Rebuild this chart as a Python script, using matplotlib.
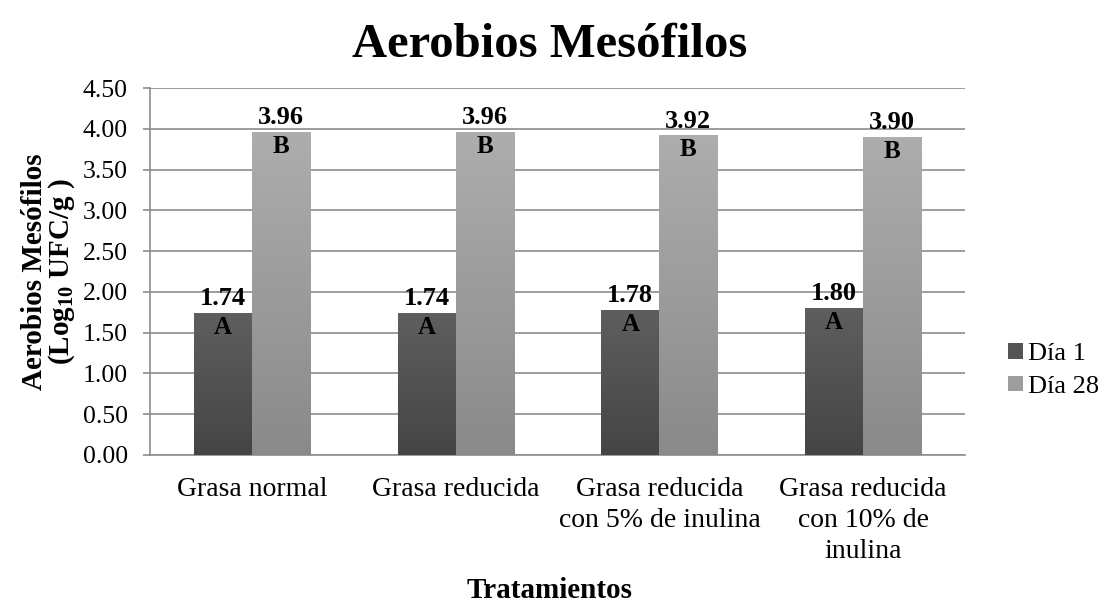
import numpy as np
import matplotlib.pyplot as plt
from matplotlib.patches import Patch

plt.rcParams['font.family'] = 'Liberation Serif'
plt.rcParams['mathtext.fontset'] = 'custom'
plt.rcParams['mathtext.rm'] = 'Liberation Serif:bold'
plt.rcParams['mathtext.bf'] = 'Liberation Serif:bold'

categories = ['Grasa normal', 'Grasa reducida', 'Grasa reducida\ncon 5% de inulina',
              'Grasa reducida\ncon 10% de\ninulina']
dia1 = [1.74, 1.74, 1.78, 1.80]
dia28 = [3.96, 3.96, 3.92, 3.90]
letters1 = ['A', 'A', 'A', 'A']
letters28 = ['B', 'B', 'B', 'B']
series_names = ['Día 1', 'Día 28']

fig = plt.figure(figsize=(11.1, 6.09), dpi=100)
ax = fig.add_axes([0.1351, 0.2529, 0.7343, 0.6026])

x = np.arange(len(categories))
w = 0.285


def gradient_bars(xs, vals, top_col, bot_col):
    bars = ax.bar(xs, vals, w, color='none', edgecolor='none', zorder=3)
    grad = np.linspace(0, 1, 256).reshape(-1, 1)
    c0 = np.array(top_col)
    c1 = np.array(bot_col)
    img = c0 + (c1 - c0) * grad[:, :, None]
    for b in bars:
        x0, y0 = b.get_x(), b.get_y()
        im = ax.imshow(img, extent=[x0, x0 + b.get_width(), y0, y0 + b.get_height()],
                       origin='upper', aspect='auto', zorder=3, interpolation='bilinear')
        im.set_clip_path(b)
    return bars


dark_top = (0.37, 0.37, 0.37)
dark_bot = (0.27, 0.27, 0.27)
light_top = (0.68, 0.68, 0.68)
light_bot = (0.54, 0.54, 0.54)

b1 = gradient_bars(x - w / 2, dia1, dark_top, dark_bot)
b2 = gradient_bars(x + w / 2, dia28, light_top, light_bot)

for xs, vals, lets in [(x - w / 2, dia1, letters1), (x + w / 2, dia28, letters28)]:
    for xi, v, l in zip(xs, vals, lets):
        ax.annotate(f'{v:.2f}', (xi, v), xytext=(0, 2), textcoords='offset points',
                    ha='center', va='bottom', fontsize=19, fontweight='bold', zorder=5)
        ax.annotate(l, (xi, v), xytext=(0, -2), textcoords='offset points',
                    ha='center', va='top', fontsize=18, fontweight='bold', zorder=5)

ax.set_xlim(-0.5, len(categories) - 0.5)
ax.set_ylim(0, 4.5)
ax.set_yticks(np.arange(0, 4.51, 0.5))
ax.set_yticklabels([f'{t:.2f}' for t in np.arange(0, 4.51, 0.5)], fontsize=18.5)
ax.set_xticks(x)
ax.set_xticklabels(categories, fontsize=20, linespacing=1.3)
ax.tick_params(axis='x', length=0, pad=16)
ax.tick_params(axis='y', length=5, color='#8c8c8c', width=1.2, pad=11)
ax.yaxis.grid(True, color='#8c8c8c', linewidth=1.2, zorder=0)
ax.set_axisbelow(True)
for s in ['top', 'right']:
    ax.spines[s].set_visible(False)
for s in ['left', 'bottom']:
    ax.spines[s].set_color('#8c8c8c')
    ax.spines[s].set_linewidth(1.2)

ax.set_ylabel('Aerobios Mesófilos\n(Log$_{10}$ UFC/g )', fontsize=21, fontweight='bold',
              linespacing=0.9)
ax.yaxis.set_label_coords(-0.09, 0.5)

fig.text(0.495, 0.926, 'Aerobios Mesófilos', ha='center', va='center',
         fontsize=35, fontweight='bold')
fig.text(0.495, 0.031, 'Tratamientos', ha='center', va='center',
         fontsize=21, fontweight='bold')

handles = [Patch(facecolor=(0.33, 0.33, 0.33), edgecolor='none'),
           Patch(facecolor=(0.62, 0.62, 0.62), edgecolor='none')]
fig.legend(handles, series_names, loc='center left', bbox_to_anchor=(0.887, 0.392),
           frameon=False, fontsize=19, handlelength=0.55, handleheight=0.55,
           handletextpad=0.2, labelspacing=0.4)

fig.savefig('out.png', dpi=100)
